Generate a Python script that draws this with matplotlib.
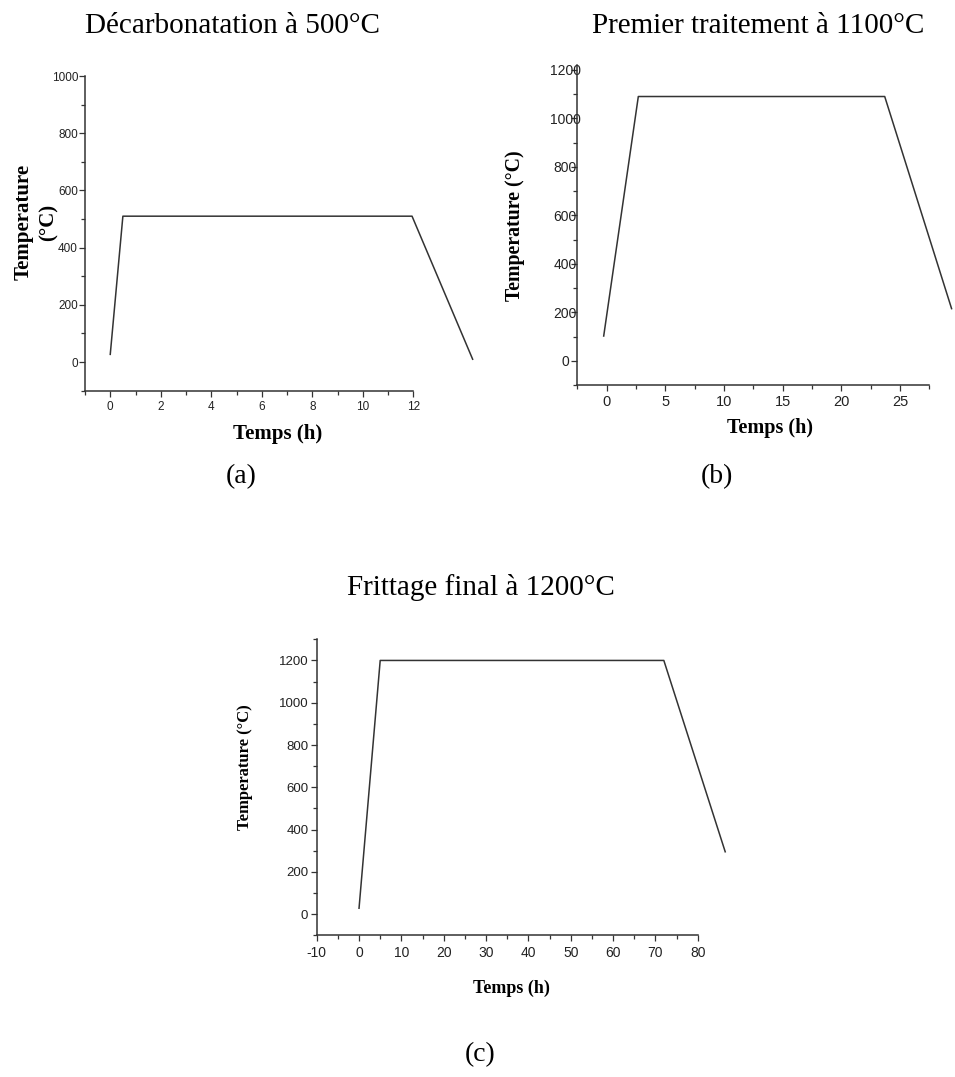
import matplotlib
matplotlib.use("Agg")
import matplotlib.pyplot as plt
from matplotlib.ticker import MultipleLocator

plt.rcParams["axes.unicode_minus"] = False

# ---------------------------------------------------------------------------
# Data
# ---------------------------------------------------------------------------
a_time = [0.0, 0.5, 11.95, 14.35]
a_temp = [27, 510, 510, 10]

b_time = [-0.25, 2.7, 23.7, 29.4]
b_temp = [102, 1090, 1090, 215]

c_time = [0.0, 5.0, 72.0, 86.5]
c_temp = [28, 1200, 1200, 295]

titles = ["Décarbonatation à 500°C", "Premier traitement à 1100°C",
          "Frittage final à 1200°C"]
panel_tags = ["(a)", "(b)", "(c)"]

W, H = 955, 1077
LINE = "#333333"
SERIF = "Liberation Serif"
SANS = "Liberation Sans"

fig = plt.figure(figsize=(W / 100, H / 100), dpi=100)


def px_axes(left, top, right, bottom):
    return fig.add_axes([left / W, 1 - bottom / H, (right - left) / W, (bottom - top) / H])


def px_text(x, y, s, **kw):
    fig.text(x / W, 1 - y / H, s, **kw)


def style(ax, xsize, ysize, ypad=2):
    for side in ("top", "right"):
        ax.spines[side].set_visible(False)
    for side in ("left", "bottom"):
        ax.spines[side].set_color(LINE)
        ax.spines[side].set_linewidth(1.1)
    ax.tick_params(which="both", direction="out", color=LINE, width=0.9,
                   labelcolor="#222222")
    ax.tick_params(which="major", length=4)
    ax.tick_params(which="minor", length=3)
    ax.tick_params(axis="x", labelsize=xsize)
    ax.tick_params(axis="y", labelsize=ysize, pad=ypad)
    for lab in ax.get_xticklabels() + ax.get_yticklabels():
        lab.set_fontfamily(SANS)


# ── (a) ──────────────────────────────────────────────────────────────────
ax_a = px_axes(85, 76, 413.3, 390.7)
ax_a.plot(a_time, a_temp, color=LINE, lw=1.1, clip_on=False)
ax_a.set_xlim(-1, 12)
ax_a.set_ylim(-100, 1000)
ax_a.xaxis.set_major_locator(MultipleLocator(2))
ax_a.xaxis.set_minor_locator(MultipleLocator(1))
ax_a.yaxis.set_major_locator(MultipleLocator(200))
ax_a.yaxis.set_minor_locator(MultipleLocator(100))
style(ax_a, 8.5, 8.5, ypad=1)

# ── (b) ──────────────────────────────────────────────────────────────────
ax_b = px_axes(577.3, 65, 929.3, 385)
ax_b.plot(b_time, b_temp, color=LINE, lw=1.1, clip_on=False)
ax_b.set_xlim(-2.5, 27.5)
ax_b.set_ylim(-100, 1220)
ax_b.xaxis.set_major_locator(MultipleLocator(5))
ax_b.xaxis.set_minor_locator(MultipleLocator(2.5))
ax_b.yaxis.set_major_locator(MultipleLocator(200))
ax_b.yaxis.set_minor_locator(MultipleLocator(100))
style(ax_b, 10.5, 10, ypad=4.8)
for lab in ax_b.get_yticklabels():
    lab.set_horizontalalignment("center")

# ── (c) ──────────────────────────────────────────────────────────────────
ax_c = px_axes(316.7, 639.3, 697.7, 935.3)
ax_c.plot(c_time, c_temp, color=LINE, lw=1.1, clip_on=False)
ax_c.set_xlim(-10, 80)
ax_c.set_ylim(-100, 1300)
ax_c.xaxis.set_major_locator(MultipleLocator(10))
ax_c.xaxis.set_minor_locator(MultipleLocator(5))
ax_c.yaxis.set_major_locator(MultipleLocator(200))
ax_c.yaxis.set_minor_locator(MultipleLocator(100))
style(ax_c, 10, 9.5, ypad=2)

# ── axis labels ─────────────────────────────────────────────────────────
bold = dict(family=SERIF, fontweight="bold", ha="center", va="center")
px_text(277.5, 434, "Temps (h)", fontsize=15, **bold)
px_text(36, 222, "Temperature\n(°C)", fontsize=15, rotation=90,
        linespacing=1.3, **bold)
px_text(770, 428, "Temps (h)", fontsize=14.5, **bold)
px_text(515, 226, "Temperature (°C)", fontsize=14.3, rotation=90, **bold)
px_text(511, 988, "Temps (h)", fontsize=13, **bold)
px_text(245, 767, "Temperature (°C)", fontsize=12, rotation=90, **bold)

# ── titles and panel tags ───────────────────────────────────────────────
plain = dict(family=SERIF, ha="center")
px_text(232, 33, titles[0], fontsize=21, va="baseline", **plain)
px_text(758, 33, titles[1], fontsize=21, va="baseline", **plain)
px_text(481, 595, titles[2], fontsize=21, va="baseline", **plain)
px_text(241, 477, panel_tags[0], fontsize=20, va="center", **plain)
px_text(717, 477, panel_tags[1], fontsize=20, va="center", **plain)
px_text(480, 1055, panel_tags[2], fontsize=20, va="center", **plain)

fig.savefig("out.png", dpi=100, facecolor="white")
